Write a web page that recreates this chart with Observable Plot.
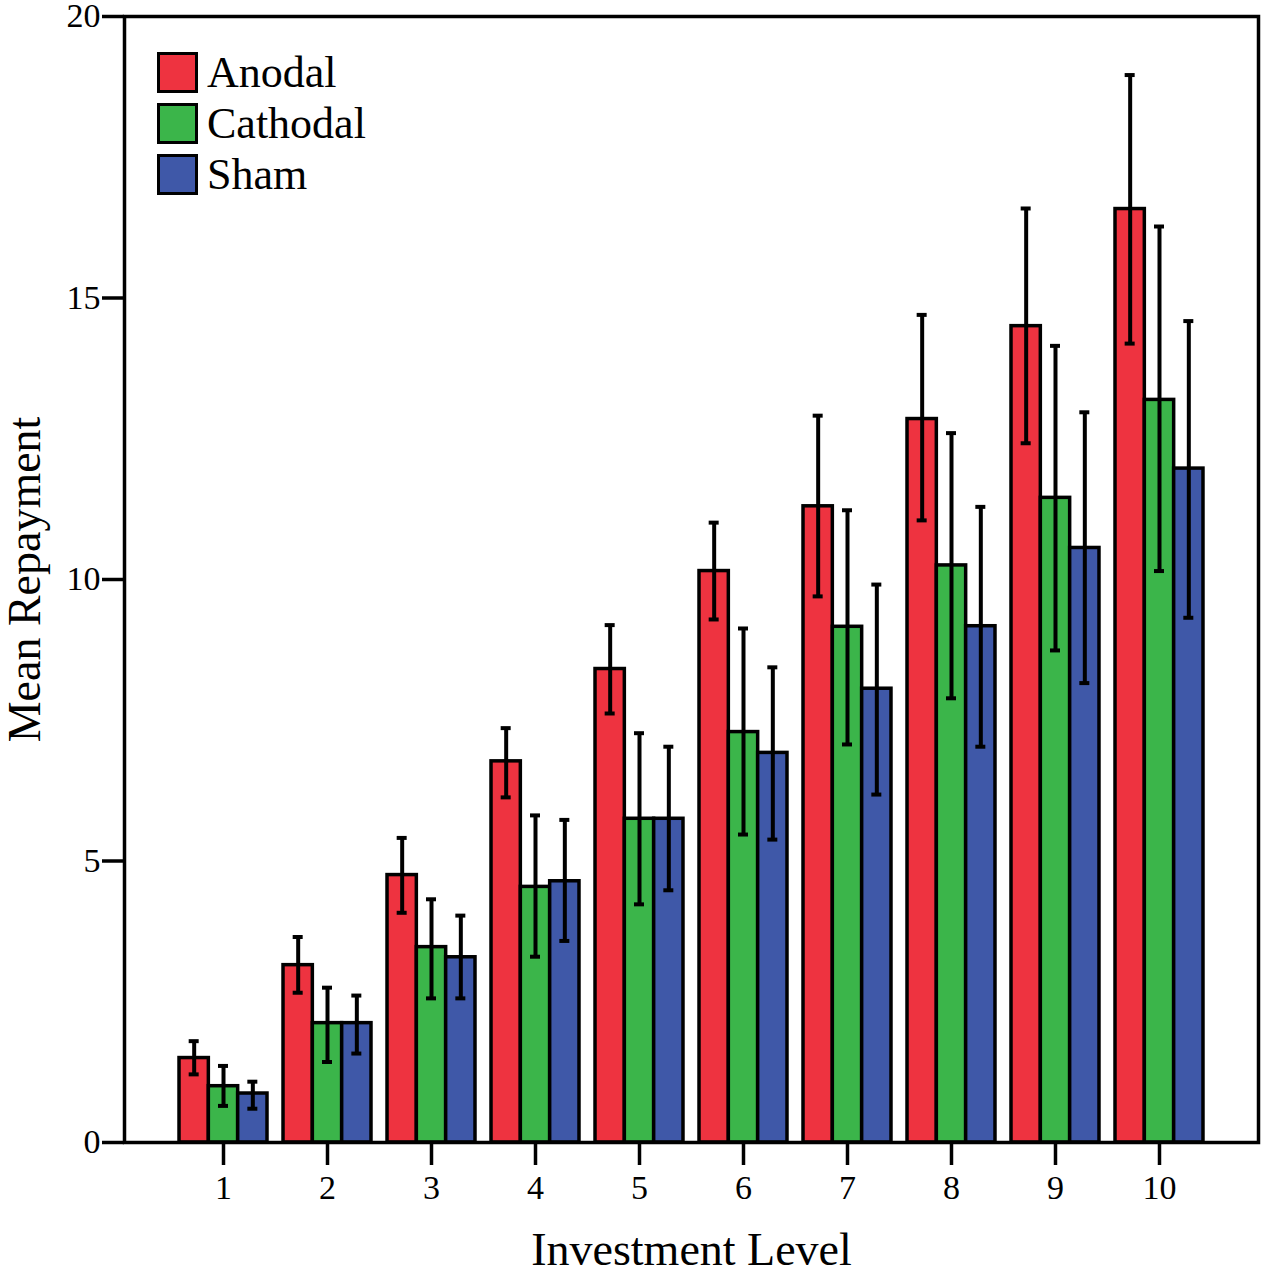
<!DOCTYPE html>
<html>
<head>
<meta charset="utf-8">
<script src="https://cdn.jsdelivr.net/npm/d3@7"></script>
<script src="https://cdn.jsdelivr.net/npm/@observablehq/plot@0.6"></script>
<style>
  html, body { margin: 0; padding: 0; background: #fff; }
  #wrap { position: relative; width: 1267px; height: 1273px; }
  #wrap svg [aria-label^="y-axis"] line,
  #wrap svg [aria-label^="y-axis"] path,
  #wrap svg [aria-label^="x-axis"] line,
  #wrap svg [aria-label^="x-axis"] path { stroke-width: 3.5px; stroke: #000; }
  .legend { position: absolute; left: 157px; top: 47px; font-family: "Liberation Serif", serif; font-size: 44px; color: #000; line-height: 1; }
  .legend .row { display: flex; align-items: center; height: 51px; }
  .legend .sw { width: 35px; height: 35px; border: 3.5px solid #000; margin-right: 9px; box-sizing: content-box; }
</style>
</head>
<body>
<div id="wrap"></div>
<script>
const levels = ["1", "2", "3", "4", "5", "6", "7", "8", "9", "10"];
const conditions = ["Anodal", "Cathodal", "Sham"];
const colors = ["#EE3340", "#3BB54A", "#3F58A8"];

const anodalMean = [1.50, 3.15, 4.75, 6.77, 8.41, 10.15, 11.30, 12.85, 14.50, 16.58];
const anodalLo   = [1.21, 2.66, 4.08, 6.13, 7.62, 9.29, 9.70, 11.05, 12.42, 14.19];
const anodalHi   = [1.80, 3.65, 5.41, 7.36, 9.19, 11.01, 12.91, 14.70, 16.59, 18.96];

const cathodalMean = [1.00, 2.12, 3.47, 4.54, 5.75, 7.29, 9.16, 10.25, 11.45, 13.19];
const cathodalLo   = [0.65, 1.43, 2.56, 3.30, 4.23, 5.47, 7.07, 7.89, 8.74, 10.15];
const cathodalHi   = [1.36, 2.75, 4.32, 5.81, 7.27, 9.13, 11.23, 12.60, 14.15, 16.27];

const shamMean = [0.87, 2.12, 3.29, 4.64, 5.75, 6.92, 8.06, 9.17, 10.56, 11.97];
const shamLo   = [0.60, 1.58, 2.56, 3.58, 4.48, 5.38, 6.18, 7.03, 8.16, 9.32];
const shamHi   = [1.08, 2.61, 4.03, 5.73, 7.03, 8.44, 9.91, 11.29, 12.97, 14.59];

const yTicks = [0, 5, 10, 15, 20];

const means = [anodalMean, cathodalMean, shamMean];
const los = [anodalLo, cathodalLo, shamLo];
const his = [anodalHi, cathodalHi, shamHi];

const rows = [];
levels.forEach((lv, i) => {
  conditions.forEach((c, j) => {
    rows.push({level: lv, condition: c, mean: means[j][i], lo: los[j][i], hi: his[j][i]});
  });
});

const W = 1267, H = 1273, mL = 124, mR = 9, mT = 16, mB = 131;
const pInner = 0.154, pOuter = 0.529;
const step = (W - mL - mR) / (levels.length - pInner + 2 * pOuter);
const bw = step * (1 - pInner);
const sub = bw / 3;
const cap = 10;

const marks = [];
conditions.forEach((c, j) => {
  const d = rows.filter(r => r.condition === c);
  marks.push(Plot.barY(d, {
    x: "level", y: "mean", fill: colors[j], stroke: "#000", strokeWidth: 3.5,
    insetLeft: j * sub, insetRight: (2 - j) * sub
  }));
});
marks.push(Plot.frame({stroke: "#000", strokeWidth: 3.5}));
conditions.forEach((c, j) => {
  const d = rows.filter(r => r.condition === c);
  const off = (j - 1) * sub;
  marks.push(Plot.ruleX(d, {x: "level", y1: "lo", y2: "hi", dx: off, stroke: "#000", strokeWidth: 4}));
  const il = j * sub + sub / 2 - cap / 2;
  const ir = (2 - j) * sub + sub / 2 - cap / 2;
  marks.push(Plot.tickY(d, {x: "level", y: "hi", insetLeft: il, insetRight: ir, stroke: "#000", strokeWidth: 4}));
  marks.push(Plot.tickY(d, {x: "level", y: "lo", insetLeft: il, insetRight: ir, stroke: "#000", strokeWidth: 4}));
});
marks.push(Plot.text(["Investment Level"], {text: d => d, frameAnchor: "bottom", dy: 122, fontSize: 46, fill: "#000"}));
marks.push(Plot.text(["Mean Repayment"], {text: d => d, frameAnchor: "left", textAnchor: "middle", rotate: -90, dx: -99, fontSize: 46, fill: "#000"}));

const chart = Plot.plot({
  width: W, height: H,
  marginLeft: mL, marginRight: mR, marginTop: mT, marginBottom: mB,
  style: {fontFamily: '"Liberation Serif", serif', fontSize: "34px", background: "white", color: "black", overflow: "visible"},
  x: {type: "band", domain: levels, paddingInner: pInner, paddingOuter: pOuter, align: 0.5, round: false, label: null, tickSize: 23, tickPadding: 9},
  y: {domain: [0, 20], ticks: yTicks, label: null, tickSize: 22, tickPadding: 2},
  marks
});

const wrap = document.getElementById("wrap");
wrap.appendChild(chart);

const legend = document.createElement("div");
legend.className = "legend";
conditions.forEach((c, j) => {
  const row = document.createElement("div");
  row.className = "row";
  const sw = document.createElement("div");
  sw.className = "sw";
  sw.style.background = colors[j];
  const t = document.createElement("span");
  t.textContent = c;
  row.appendChild(sw);
  row.appendChild(t);
  legend.appendChild(row);
});
wrap.appendChild(legend);
</script>
</body>
</html>
